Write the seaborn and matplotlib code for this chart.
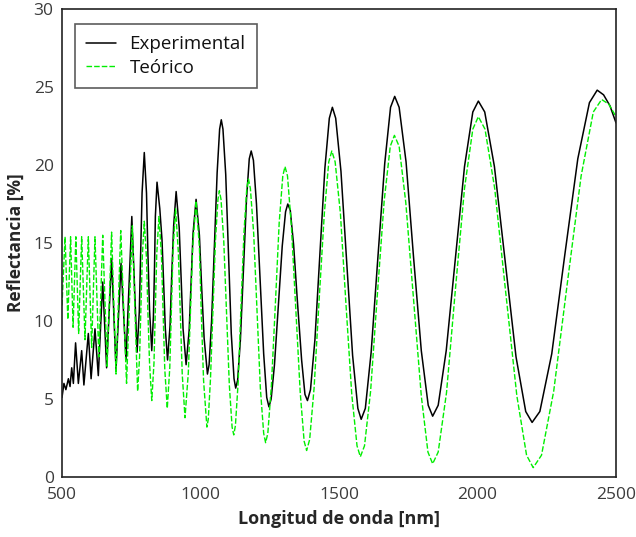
import numpy as np
import pandas as pd
import seaborn as sns
import matplotlib.pyplot as plt
from matplotlib.ticker import MultipleLocator

# Experimental curve (nm, %)
exp_nm = [500, 507, 514, 523, 529, 535, 541, 549, 559, 571, 579, 595, 605, 619, 631,
          647, 661, 679, 695, 713, 731, 752, 771, 779, 784, 789, 797, 805, 810, 816,
          824, 830, 834, 837, 843, 853, 861, 867, 873, 881, 890, 896, 903, 912,
          923, 930, 937, 948, 959, 966, 973, 984, 996, 1004, 1013,
          1025, 1031, 1040, 1050, 1060, 1069, 1075, 1081, 1091, 1101, 1111, 1121,
          1127, 1134, 1144, 1155, 1166, 1176, 1183, 1191, 1202, 1215, 1228, 1239,
          1247, 1255, 1267, 1281, 1295, 1307, 1315, 1324, 1336, 1350, 1365, 1377,
          1386, 1397, 1413, 1431, 1449, 1465, 1476, 1488, 1507, 1528, 1549, 1568,
          1580, 1595, 1616, 1640, 1665, 1686, 1701, 1717, 1742, 1769, 1797, 1822,
          1838, 1858, 1887, 1920, 1953, 1983, 2003, 2026, 2061, 2100, 2139, 2174,
          2197, 2225, 2268, 2314, 2362, 2404, 2432, 2455, 2478, 2500]
exp_r = [5.1, 6.0, 5.6, 6.3, 5.8, 7.0, 6.0, 8.6, 6.0, 8.1, 5.9, 9.2, 6.3, 9.5, 6.5,
         12.5, 7.0, 14.0, 6.9, 13.7, 7.5, 16.7, 8.0, 10.6, 14.4, 18.2, 20.8, 18.2, 14.4, 10.7,
         8.1, 10.3, 13.5, 16.7, 18.9, 17.2, 15.2, 12.3, 9.5, 7.5, 9.7, 12.9, 16.1, 18.3,
         16.0, 12.7, 9.5, 7.2, 9.4, 12.5, 15.6, 17.8, 15.5, 12.2, 8.9,
         6.6, 7.2, 10.0, 14.8, 19.5, 22.3, 22.9, 22.3, 19.4, 14.3, 9.2, 6.3,
         5.7, 6.2, 8.8, 13.3, 17.8, 20.4, 20.9, 20.3, 17.5, 12.7, 7.9, 5.1,
         4.5, 5.0, 7.2, 11.0, 14.8, 17.0, 17.5, 17.1, 14.9, 11.2, 7.5, 5.3,
         4.9, 5.6, 8.8, 14.3, 19.8, 23.0, 23.7, 23.0, 19.6, 13.7, 7.8, 4.4,
         3.7, 4.4, 8.0, 14.0, 20.1, 23.7, 24.4, 23.7, 20.2, 14.1, 8.1, 4.6,
         3.9, 4.6, 8.1, 14.0, 19.9, 23.4, 24.1, 23.4, 19.9, 13.8, 7.7, 4.2,
         3.5, 4.2, 7.9, 14.1, 20.4, 24.0, 24.8, 24.5, 23.8, 22.7]

# Theoretical curve
teo_nm = [500, 511, 521, 531, 540, 550, 560, 571, 583, 595, 607, 619, 633, 647, 663,
          679, 695, 712, 733, 743, 754, 763, 773, 780, 785, 790, 797, 805, 810, 816,
          824, 832, 837, 842, 850, 859, 865, 871, 880, 889, 895, 901, 910,
          920, 927, 934, 944, 956, 964, 972, 984, 996, 1003, 1011,
          1023, 1028, 1036, 1045, 1054, 1063, 1068, 1074, 1084, 1094, 1104, 1114,
          1120, 1126, 1136, 1146, 1157, 1167, 1173, 1180, 1192, 1204, 1216, 1228,
          1235, 1243, 1256, 1270, 1284, 1297, 1305, 1314, 1328, 1344, 1360, 1374,
          1383, 1394, 1410, 1428, 1447, 1463, 1474, 1486, 1505, 1525, 1546, 1565,
          1577, 1592, 1614, 1638, 1663, 1685, 1700, 1717, 1741, 1769, 1797, 1821,
          1838, 1858, 1888, 1920, 1953, 1983, 2003, 2027, 2062, 2102, 2142, 2177,
          2201, 2231, 2275, 2324, 2374, 2418, 2448, 2474, 2500]
teo_r = [11.0, 15.4, 10.1, 15.4, 9.6, 15.4, 9.2, 15.4, 8.8, 15.4, 8.3, 15.4, 7.7, 15.5, 7.1,
         15.7, 6.6, 15.8, 6.0, 11.0, 16.1, 10.8, 5.5, 7.7, 11.0, 14.2, 16.4, 14.0, 10.6, 7.3,
         4.9, 7.3, 10.8, 14.3, 16.7, 14.2, 10.5, 6.9, 4.4, 7.0, 10.8, 14.6, 17.2,
         14.4, 10.5, 6.6, 3.8, 6.7, 10.7, 14.8, 17.7, 14.7, 10.4, 6.2,
         3.2, 3.7, 6.3, 10.8, 15.2, 17.8, 18.35, 17.8, 15.1, 10.5, 5.9, 3.2,
         2.7, 3.3, 6.1, 10.9, 15.7, 18.5, 19.1, 18.5, 15.6, 10.6, 5.7, 2.8,
         2.2, 2.8, 5.9, 11.0, 16.3, 19.3, 19.9, 19.3, 16.1, 10.8, 5.4, 2.3,
         1.7, 2.4, 5.7, 11.3, 16.9, 20.2, 20.9, 20.2, 16.9, 11.1, 5.3, 2.0,
         1.3, 2.0, 5.5, 11.6, 17.7, 21.2, 21.9, 21.2, 17.6, 11.4, 5.2, 1.6,
         0.85, 1.6, 5.4, 12.0, 18.5, 22.3, 23.1, 22.3, 18.5, 11.8, 5.2, 1.4,
         0.6, 1.4, 5.5, 12.4, 19.3, 23.4, 24.2, 23.9, 23.1]

df_exp = pd.DataFrame({'nm': exp_nm, 'R': exp_r})
df_teo = pd.DataFrame({'nm': teo_nm, 'R': teo_r})

sns.set_style('white')
plt.rcParams['font.family'] = ['Open Sans', 'DejaVu Sans']

fig = plt.figure(figsize=(6.36, 5.37), dpi=100)
ax = fig.add_axes([0.0975, 0.1117, 0.8711, 0.8715])

sns.lineplot(data=df_exp, x='nm', y='R', ax=ax, color='black', lw=1.1,
             estimator=None, sort=False, label='Experimental')
sns.lineplot(data=df_teo, x='nm', y='R', ax=ax, color='#00ee00', lw=1.0,
             estimator=None, sort=False, label='Teórico')
ax.lines[1].set_dashes([4, 1.5])

ax.set_xlim(500, 2500)
ax.set_ylim(0, 30)
ax.xaxis.set_major_locator(MultipleLocator(500))
ax.xaxis.set_minor_locator(MultipleLocator(100))
ax.yaxis.set_major_locator(MultipleLocator(5))
ax.yaxis.set_minor_locator(MultipleLocator(1))
ax.tick_params(which='both', direction='in', top=False, right=False,
               labelsize=12.5, labelcolor='#3c3c3c', color='#222222')
ax.tick_params(which='major', length=9, width=1)
ax.tick_params(which='minor', length=5.5, width=1)
ax.tick_params(axis='x', which='major', pad=7)
ax.tick_params(axis='y', which='major', pad=6)
for s in ax.spines.values():
    s.set_color('#222222')
    s.set_linewidth(1.2)

ax.set_xlabel('Longitud de onda [nm]', fontsize=13, fontweight='bold', labelpad=5)
ax.set_ylabel('Reflectancia [%]', fontsize=12.5, fontweight='bold', labelpad=6)

leg = ax.legend(loc='upper left', bbox_to_anchor=(0.0235, 0.968), fontsize=13.5,
                frameon=True, fancybox=False, handlelength=1.6, borderpad=0.6,
                labelspacing=0.3, handletextpad=0.7, borderaxespad=0)
leg.get_frame().set_edgecolor('#333333')
leg.get_frame().set_linewidth(1.2)
for t in leg.get_texts():
    t.set_color('#111111')

fig.savefig('out.png', dpi=100)
